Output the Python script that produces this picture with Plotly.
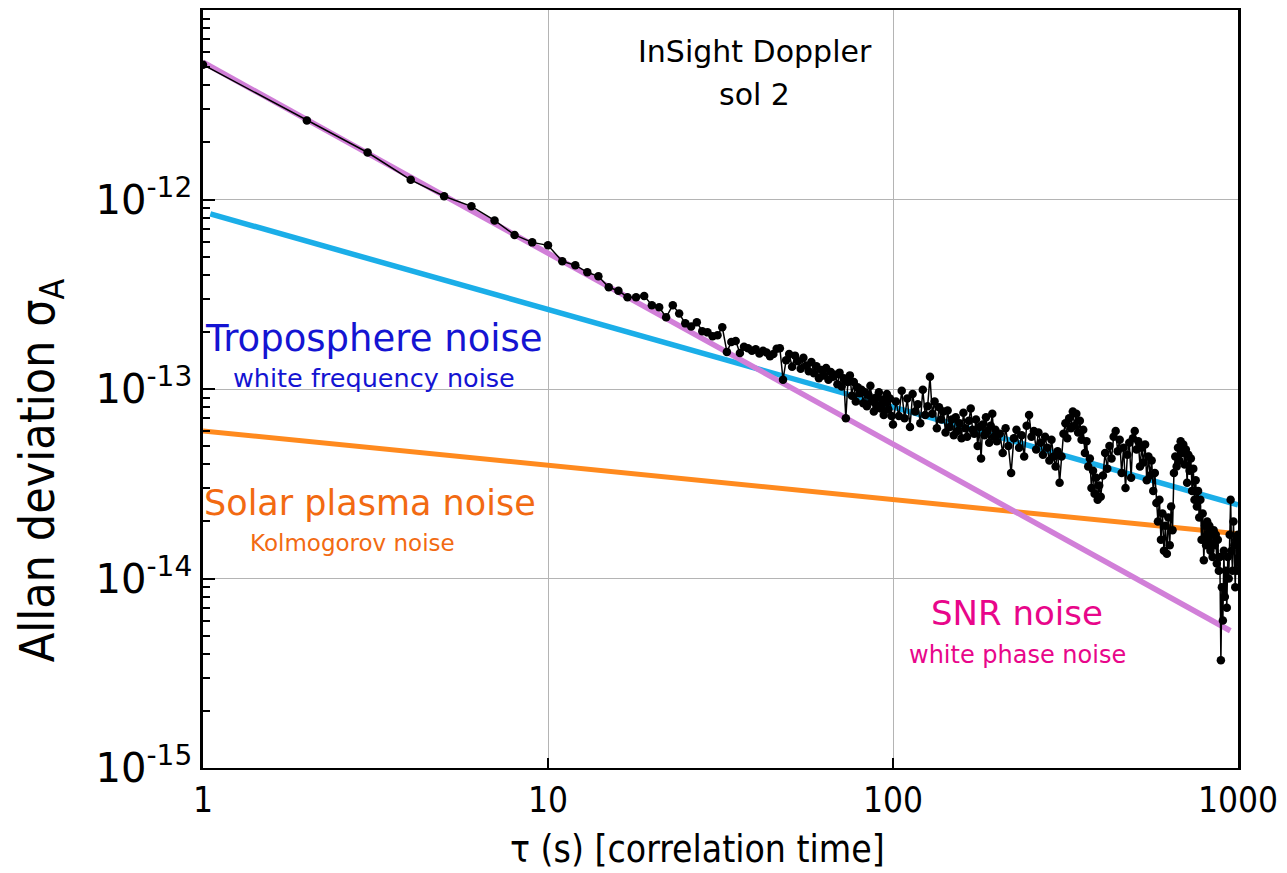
import plotly.graph_objects as go

# ---------------- data ----------------
# Allan deviation of the Doppler data, values in units of 1e-14
TAU_A = list(range(1, 101))
SIG_A = [514, 261, 177, 127, 104, 92, 77.5, 65, 59.4, 57.3,
         47.2, 45, 41.3, 39.3, 34.4, 33, 30.5, 30.5, 31, 27.7,
         27, 23.9, 27.7, 25, 22.2, 21.4, 22.5, 20.2, 19.9, 19,
         19.2, 21.2, 15.7, 17.7, 17.9, 15.5, 16.7, 16.4, 15.9, 16.2,
         15.4, 15.9, 15.6, 14.9, 15.3, 16.3, 16.4, 11.2, 14.2, 15.3,
         13.1, 15.0, 14.0, 12.8, 14.6, 13.3, 12.4, 13.9, 12.1, 13.2,
         11.4, 12.6, 11.8, 12.9, 11.2, 12.3, 11.6, 11.9, 10.6, 12.2,
         10.3, 11.4, 7.0, 10.9, 11.8, 9.2, 10.9, 8.6, 10.2, 9.5,
         9.9, 8.4, 9.6, 8.1, 9.3, 10.4, 8.6, 7.6, 9.0, 8.2,
         9.6, 7.9, 8.8, 7.3, 8.5, 9.4, 7.8, 8.9, 7.2, 6.5]

TAU_B = list(range(102, 201, 2))
SIG_B = [8.6, 7.2, 9.8, 7.0, 8.9, 6.3, 9.4, 7.6, 8.3, 6.6,
         9.9, 7.3, 8.1, 11.6, 7.4, 8.6, 6.2, 8.0, 6.9, 7.6,
         5.9, 7.7, 6.3, 6.9, 5.7, 7.1, 6.0, 6.6, 5.5, 7.5,
         6.2, 5.6, 6.8, 7.9, 6.1, 5.8, 6.9, 5.0, 6.3, 4.3,
         6.5, 5.7, 7.1, 6.0, 5.2, 6.4, 7.4, 5.6, 6.1, 5.3]

TAU_C = list(range(204, 401, 4))
SIG_C = [5.8, 4.6, 6.2, 5.0, 3.6, 5.5, 6.1, 4.9, 5.7, 4.4,
         6.4, 7.3, 5.6, 6.0, 4.8, 5.9, 5.2, 4.5, 5.6, 4.9,
         4.2, 5.4, 4.4, 3.9, 4.7, 3.2, 4.4, 5.8, 6.6, 5.5,
         7.0, 6.2, 7.6, 6.4, 7.4, 5.9, 6.8, 5.4, 6.1, 4.6,
         5.3, 3.9, 4.3, 3.0, 3.7, 2.8, 3.4, 2.6, 3.1, 2.7]

TAU_D = list(range(406, 1001, 6))
SIG_D = [3.5, 4.6, 3.8, 5.0, 4.3, 5.6, 6.0, 4.7, 5.4, 3.6,
         4.9, 3.0, 4.5, 5.2, 3.4, 5.5, 6.0, 4.8, 5.3, 3.9,
         4.9, 4.1, 5.1, 3.3, 4.4, 3.5, 4.2, 2.9, 3.6, 2.5,
         2.0, 2.6, 1.6, 2.2, 1.4, 1.9, 1.35, 2.1, 1.5, 2.4,
         1.8, 3.6, 4.4, 3.9, 4.9, 4.2, 5.3, 4.6, 5.1, 4.0,
         4.8, 3.2, 4.5, 3.7, 4.3, 2.9, 3.8, 2.6, 3.3, 2.4,
         2.9, 2.1, 2.6, 1.6, 2.2, 1.25, 1.9, 1.5, 2.0, 1.6,
         1.9, 1.4, 1.7, 1.3, 1.8, 1.5, 1.7, 1.2, 1.6, 1.1,
         1.3, 0.37, 0.9, 0.6, 1.4, 0.8, 1.1, 0.7, 1.3, 1.0,
         1.7, 2.6, 1.4, 1.1, 2.0, 1.5, 0.9, 1.6, 1.1, 1.7]

UNIT = 1e-14

# noise model lines (end points)
SNR_TAU = [1, 950]
SNR_SIG = [5.3e-12, 5.3e-15]
TROPO_TAU = [1.05, 1000]
TROPO_SIG = [8.4e-13, 2.45e-14]
PLASMA_TAU = [1, 1000]
PLASMA_SIG = [6.0e-14, 1.72e-14]

X_TICKS = [1, 10, 100, 1000]
X_TICKTEXT = ["1", "10", "100", "1000"]
Y_TICKS = [1e-15, 1e-14, 1e-13, 1e-12]
Y_TICKTEXT = ["10<sup>-15</sup>", "10<sup>-14</sup>", "10<sup>-13</sup>", "10<sup>-12</sup>"]
Y_MINOR = [m * 10.0 ** e for e in (-15, -14, -13, -12) for m in range(2, 10)]

# ---------------- build ----------------
tau = []
sig = []
for t_list, s_list in ((TAU_A, SIG_A), (TAU_B, SIG_B), (TAU_C, SIG_C), (TAU_D, SIG_D)):
    n = min(len(t_list), len(s_list))
    tau += t_list[:n]
    sig += [v * UNIT for v in s_list[:n]]

FONT = "DejaVu Sans"
COND = "DejaVu Sans Condensed, Liberation Sans Narrow, DejaVu Sans"

fig = go.Figure()
fig.add_trace(go.Scatter(x=PLASMA_TAU, y=PLASMA_SIG, mode="lines",
                         line=dict(color="#FF8A1E", width=5), hoverinfo="skip"))
fig.add_trace(go.Scatter(x=TROPO_TAU, y=TROPO_SIG, mode="lines",
                         line=dict(color="#1BAEE8", width=5.5), hoverinfo="skip"))
fig.add_trace(go.Scatter(x=SNR_TAU, y=SNR_SIG, mode="lines",
                         line=dict(color="#D17FD8", width=5.5), hoverinfo="skip"))
fig.add_trace(go.Scatter(x=tau, y=sig, mode="lines+markers",
                         line=dict(color="black", width=1.5),
                         marker=dict(color="black", size=8.5)))

ann = [
    dict(text="InSight Doppler", x=0.533, y=0.945, size=30, color="black", font=FONT, angle=0),
    dict(text="sol 2", x=0.533, y=0.888, size=30, color="black", font=FONT, angle=0),
    dict(text="Troposphere noise", x=0.165, y=0.567, size=37, color="#1414D2", font=FONT, angle=0),
    dict(text="white frequency noise", x=0.165, y=0.515, size=25.5, color="#1414D2", font=FONT, angle=0),
    dict(text="Solar plasma noise", x=0.161, y=0.350, size=35, color="#F26A12", font=FONT, angle=0),
    dict(text="Kolmogorov noise", x=0.144, y=0.297, size=23, color="#F26A12", font=FONT, angle=0),
    dict(text="SNR noise", x=0.786, y=0.204, size=34, color="#E8068A", font=FONT, angle=0),
    dict(text="white phase noise", x=0.787, y=0.149, size=24, color="#E8068A", font=FONT, angle=0),
    dict(text="τ (s) [correlation time]", x=0.478, y=-0.108, size=37, color="black", font=COND, angle=0),
    dict(text="Allan deviation σ<sub>A</sub>", x=-0.157, y=0.392, size=48, color="black", font=COND, angle=-90),
]
for a in ann:
    fig.add_annotation(text=a["text"], x=a["x"], y=a["y"], xref="paper", yref="paper",
                       showarrow=False, xanchor="center", yanchor="middle", textangle=a["angle"],
                       font=dict(family=a["font"], size=a["size"], color=a["color"]))

# the page body adds an ~8px offset; margins compensate so the plot box sits at
# x 203..1238, y 10..768 on screen
fig.update_layout(
    width=1287, height=873,
    margin=dict(l=195, r=57, t=2, b=113),
    paper_bgcolor="white", plot_bgcolor="white",
    showlegend=False,
    xaxis=dict(type="log", range=[0, 3], automargin=False,
               tickvals=X_TICKS, ticktext=X_TICKTEXT,
               ticks="inside", ticklen=10, tickwidth=1.5, tickcolor="black",
               showline=True, linecolor="black", linewidth=2, mirror=True,
               showgrid=True, gridcolor="#B4B4B4", gridwidth=1,
               tickfont=dict(family=COND, size=35, color="black"),
               zeroline=False),
    yaxis=dict(type="log", range=[-15, -11], automargin=False,
               tickvals=Y_TICKS, ticktext=Y_TICKTEXT,
               ticks="inside", ticklen=12, tickwidth=1.5, tickcolor="black",
               minor=dict(tickvals=Y_MINOR, ticks="inside", ticklen=7, tickwidth=1.5,
                          tickcolor="black", showgrid=False),
               showline=True, linecolor="black", linewidth=2.5, mirror=True,
               showgrid=True, gridcolor="#B4B4B4", gridwidth=1,
               tickfont=dict(family=FONT, size=40, color="black"),
               zeroline=False),
)

fig.write_html("out.html")
